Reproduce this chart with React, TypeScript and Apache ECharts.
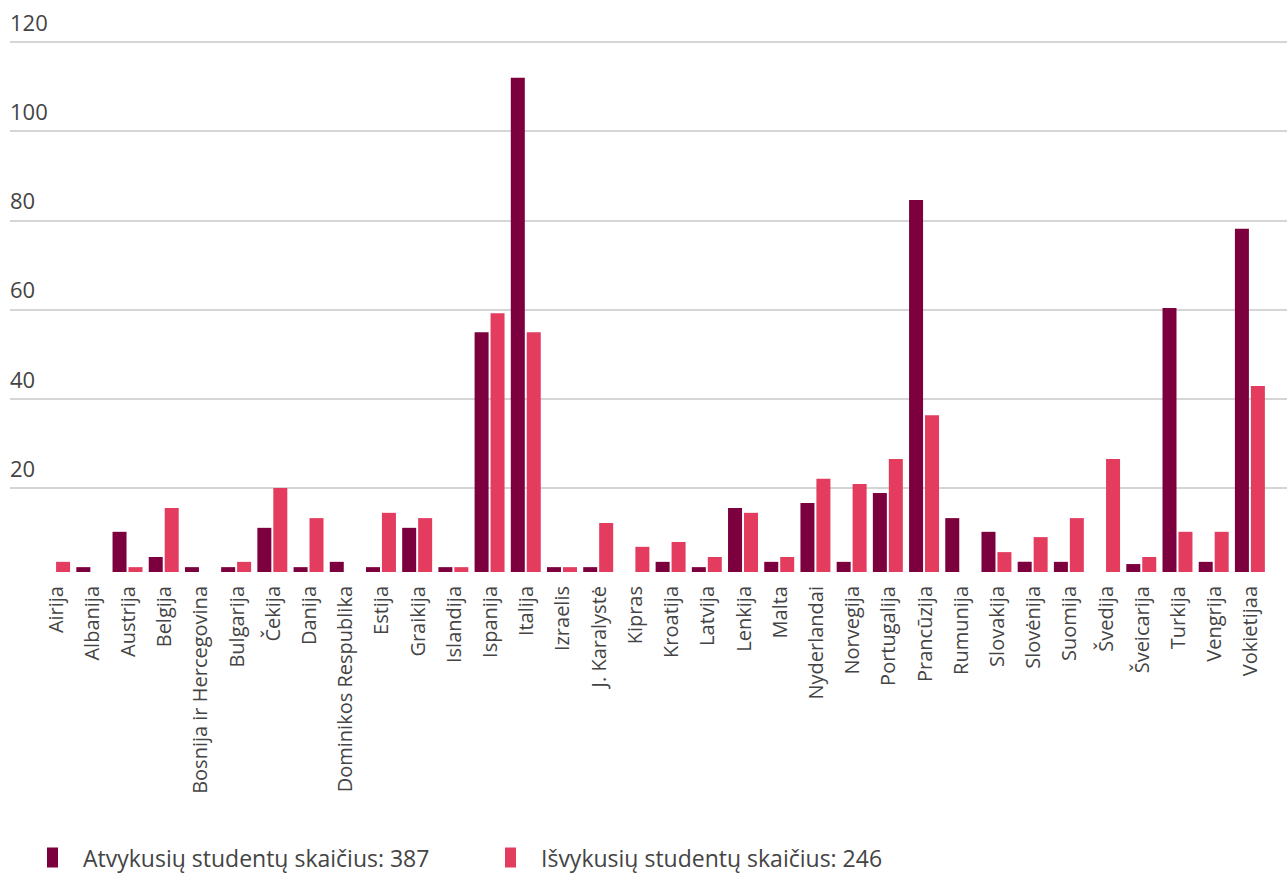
import React, { useEffect, useRef } from "react";
import * as echarts from "echarts";

const categories = [
  "Airija", "Albanija", "Austrija", "Belgija", "Bosnija ir Hercegovina", "Bulgarija",
  "Čekija", "Danija", "Dominikos Respublika", "Estija", "Graikija", "Islandija",
  "Ispanija", "Italija", "Izraelis", "J. Karalystė", "Kipras", "Kroatija", "Latvija",
  "Lenkija", "Malta", "Nyderlandai", "Norvegija", "Portugalija", "Prancūzija",
  "Rumunija", "Slovakija", "Slovėnija", "Suomija", "Švedija", "Šveicarija",
  "Turkija", "Vengrija", "Vokietijaa",
];

const arrivals = [
  0, 1.1, 9.1, 3.4, 1.1, 1.1, 10, 1.1, 2.3, 1.1, 10, 1.1, 54.3, 111.9, 1.1, 1.1, 0,
  2.3, 1.1, 14.5, 2.3, 15.6, 2.3, 17.9, 84.2, 12.2, 9.1, 2.3, 2.3, 0, 1.8, 59.8, 2.3, 77.7,
];

const departures = [
  2.3, 0, 1.1, 14.5, 0, 2.3, 19, 12.2, 0, 13.4, 12.2, 1.1, 58.6, 54.3, 1.1, 11.1, 5.7,
  6.8, 3.4, 13.4, 3.4, 21.1, 19.9, 25.6, 35.5, 0, 4.5, 7.9, 12.2, 25.6, 3.4, 9.1, 9.1, 42.1,
];

const arrivalsName = "Atvykusių studentų skaičius: 387";
const departuresName = "Išvykusių studentų skaičius: 246";

const yTicks = { min: 20, max: 120, interval: 20 };

const DARK = "#7b003d";
const PINK = "#e33c5f";
const TEXT = "#444444";
const FONT = "'Open Sans', sans-serif";

export default function App() {
  const ref = useRef<HTMLDivElement>(null);

  useEffect(() => {
    if (!ref.current) return;
    const chart = echarts.init(ref.current, null, { renderer: "svg" });
    const legendBase = {
      top: 846,
      padding: 0,
      itemWidth: 11,
      itemHeight: 20,
      icon: "rect",
      textStyle: {
        color: TEXT,
        fontSize: 23,
        lineHeight: 20,
        fontFamily: FONT,
        padding: [0, 0, 0, 20],
      },
    };
    chart.setOption({
      animation: false,
      textStyle: { fontFamily: FONT },
      grid: [
        { left: 10, right: 0, top: 42, bottom: 873 - 487.7, containLabel: false },
        { left: 37, right: 19, top: 42, bottom: 873 - 572, containLabel: false },
      ],
      xAxis: [
        { type: "category", gridIndex: 0, show: false, data: ["x"] },
        {
          type: "category",
          gridIndex: 1,
          data: categories,
          axisLine: { show: false },
          axisTick: { show: false },
          axisLabel: {
            rotate: 90,
            interval: 0,
            margin: 14,
            color: TEXT,
            fontSize: 20,
            fontFamily: FONT,
          },
        },
      ],
      yAxis: [
        {
          type: "value",
          gridIndex: 0,
          min: yTicks.min,
          max: yTicks.max,
          interval: yTicks.interval,
          axisLine: { show: false },
          axisTick: { show: false },
          splitLine: { show: true, lineStyle: { color: "#d5d5d5", width: 2 } },
          axisLabel: {
            inside: true,
            margin: 0,
            align: "left",
            verticalAlign: "bottom",
            padding: [0, 0, 9, 0],
            color: TEXT,
            fontSize: 22,
            fontFamily: FONT,
          },
        },
        {
          type: "value",
          gridIndex: 1,
          min: 0,
          max: 120,
          show: false,
          splitLine: { show: false },
        },
      ],
      legend: [
        { ...legendBase, data: [arrivalsName], left: 47 },
        { ...legendBase, data: [departuresName], left: 505 },
      ],
      series: [
        {
          name: arrivalsName,
          type: "bar",
          xAxisIndex: 1,
          yAxisIndex: 1,
          data: arrivals,
          barWidth: 14,
          barGap: "14%",
          itemStyle: { color: DARK },
        },
        {
          name: departuresName,
          type: "bar",
          xAxisIndex: 1,
          yAxisIndex: 1,
          data: departures,
          barWidth: 14,
          barGap: "14%",
          itemStyle: { color: PINK },
        },
      ],
    });
    return () => chart.dispose();
  }, []);

  return (
    <div
      ref={ref}
      style={{ position: "fixed", left: 0, top: 0, width: 1287, height: 873, background: "#fff" }}
    />
  );
}
